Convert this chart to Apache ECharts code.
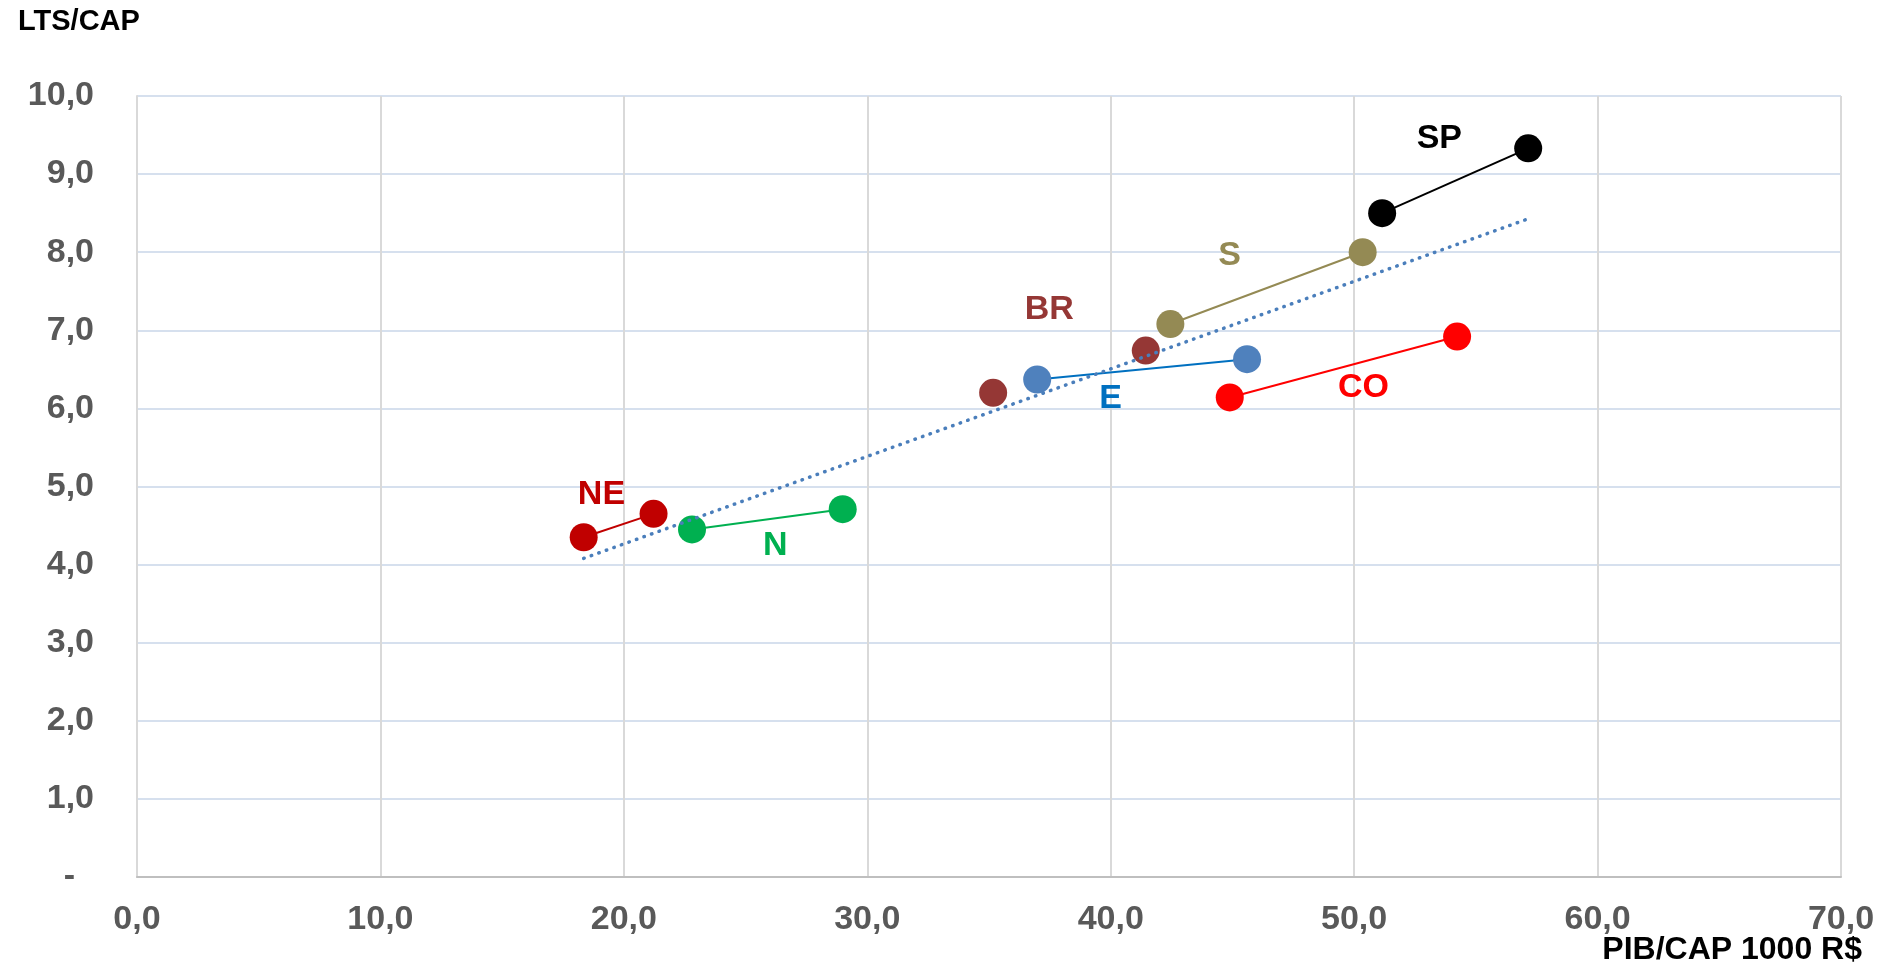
<!DOCTYPE html>
<html>
<head>
<meta charset="utf-8">
<script src="https://cdn.jsdelivr.net/npm/echarts@6/dist/echarts.min.js"></script>
<style>
  html, body { margin: 0; padding: 0; background: #fff; }
  #chart { width: 1890px; height: 967px; }
</style>
</head>
<body>
<div id="chart"></div>
<script>
// PIB per capita (1000 R$) vs. LTS per capita, two observations per region
const regionNE = [[18.35, 4.35], [21.22, 4.65]];
const regionN  = [[22.80, 4.45], [28.99, 4.71]];
const regionBR = [[35.17, 6.20], [41.44, 6.74]];
const regionE  = [[36.98, 6.37], [45.60, 6.63]];
const regionS  = [[42.45, 7.08], [50.35, 8.00]];
const regionCO = [[44.89, 6.14], [54.23, 6.92]];
const regionSP = [[51.15, 8.50], [57.15, 9.33]];
// linear trend across all regions (end points)
const trendLine = [[18.35, 4.08], [57.17, 8.43]];

const xTickLabels = ['0,0', '10,0', '20,0', '30,0', '40,0', '50,0', '60,0', '70,0'];
const yTickLabels = ['-  ', '1,0', '2,0', '3,0', '4,0', '5,0', '6,0', '7,0', '8,0', '9,0', '10,0'];

const FONT = "'Liberation Sans', Arial, sans-serif";

function regionSeries(name, data, markerColor, lineColor, textColor, labelAt, showLine) {
  return {
    name: name,
    type: showLine ? 'line' : 'scatter',
    data: data,
    symbol: 'circle',
    symbolSize: 28,
    showSymbol: true,
    itemStyle: { color: markerColor, opacity: 1 },
    lineStyle: { color: lineColor, width: 2 },
    z: 3,
    animation: false,
    markPoint: {
      symbol: 'circle',
      symbolSize: 0,
      silent: true,
      data: [{
        coord: labelAt,
        label: {
          show: true,
          formatter: name,
          position: 'inside',
          color: textColor,
          fontFamily: FONT,
          fontWeight: 'bold',
          fontSize: 34
        }
      }]
    }
  };
}

const chart = echarts.init(document.getElementById('chart'), null, { renderer: 'canvas' });

chart.setOption({
  backgroundColor: '#ffffff',
  animation: false,
  grid: { left: 137, right: 49, top: 96, bottom: 90, containLabel: false },
  xAxis: {
    type: 'value',
    min: 0, max: 70, interval: 10,
    axisLine: { show: true, lineStyle: { color: '#BFBFBF', width: 2 } },
    axisTick: { show: false },
    splitLine: { show: true, lineStyle: { color: '#D9D9D9', width: 2 } },
    axisLabel: {
      margin: 26,
      color: '#595959',
      fontFamily: FONT,
      fontWeight: 'bold',
      fontSize: 34,
      formatter: (v) => xTickLabels[Math.round(v / 10)]
    }
  },
  yAxis: {
    type: 'value',
    min: 0, max: 10, interval: 1,
    axisLine: { show: true, lineStyle: { color: '#D9D9D9', width: 2 } },
    axisTick: { show: false },
    splitLine: { show: true, lineStyle: { color: '#D6E0EE', width: 2 } },
    axisLabel: {
      margin: 43,
      color: '#595959',
      fontFamily: FONT,
      fontWeight: 'bold',
      fontSize: 34,
      formatter: (v) => yTickLabels[Math.round(v)]
    }
  },
  graphic: [
    {
      type: 'text', left: 18, top: 7,
      style: { text: 'LTS/CAP', fill: '#000', font: 'bold 29px ' + FONT }
    },
    {
      type: 'text', right: 28, top: 934,
      style: { text: 'PIB/CAP 1000 R$', fill: '#000', font: 'bold 32px ' + FONT }
    }
  ],
  series: [
    regionSeries('NE', regionNE, '#C00000', '#C00000', '#C00000', [19.08, 4.90], true),
    regionSeries('N',  regionN,  '#00B050', '#00B050', '#00B050', [26.22, 4.24], true),
    regionSeries('BR', regionBR, '#953735', '#953735', '#953735', [37.48, 7.26], false),
    regionSeries('E',  regionE,  '#4F81BD', '#0070C0', '#0070C0', [39.99, 6.13], true),
    regionSeries('S',  regionS,  '#948A54', '#948A54', '#948A54', [44.88, 7.96], true),
    regionSeries('CO', regionCO, '#FF0000', '#FF0000', '#FF0000', [50.38, 6.26], true),
    regionSeries('SP', regionSP, '#000000', '#000000', '#000000', [53.50, 9.45], true),
    {
      name: 'Tendência',
      type: 'line',
      data: trendLine,
      showSymbol: false,
      symbol: 'none',
      z: 5,
      lineStyle: { color: '#4A7EBB', width: 3.5, type: [0.5, 7.5], cap: 'round' }
    }
  ]
});
</script>
</body>
</html>
